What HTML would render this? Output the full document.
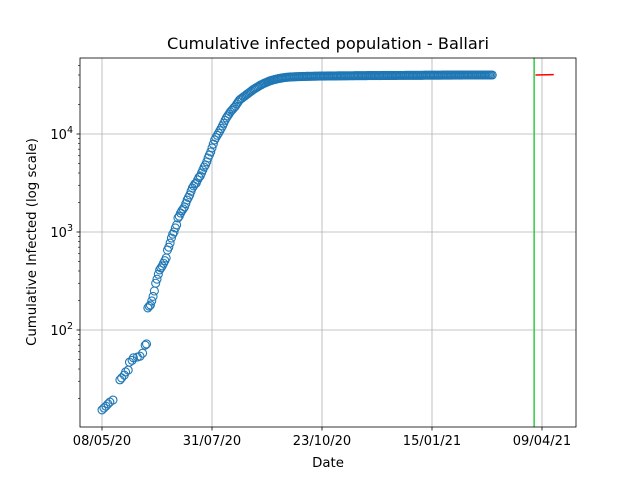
<!DOCTYPE html>
<html><head><meta charset="utf-8"><style>
body{margin:0;background:#fff}
svg{display:block;font-family:"DejaVu Sans","Liberation Sans",sans-serif}
</style></head><body>
<svg id="chart" width="640" height="480" viewBox="0 0 640 480" xmlns="http://www.w3.org/2000/svg">
<rect width="640" height="480" fill="#fff"/>
<g id="grid"></g>
<g id="marks"></g>
<g id="axes"></g>
<text x="328" y="49" text-anchor="middle" font-size="16.2" fill="#000">Cumulative infected population - Ballari</text>
<text x="328" y="467" text-anchor="middle" font-size="13.3" fill="#000">Date</text>
<text transform="translate(36,242) rotate(-90)" text-anchor="middle" font-size="13.3" fill="#000">Cumulative Infected (log scale)</text>
</svg>
<script>
const earlyDays = [0,1.5,3,4.6,6,8.4,13.7,15,17,18,20,21,23,24,27,29,31,33,34];
const earlyValues = [15.3,16,16.7,17.6,18.4,19.3,31,32.4,34.7,37.3,39,47,49,52,53,54,58,70,72];
const dailyStart = 35;
const dailyValues = [
168,175,180,198,220,250,300,330,370,410,430,450,480,510,543,655,700,772,868,950,
1000,1100,1180,1390,1450,1560,1650,1720,1800,1950,2120,2250,2390,2600,2810,2950,3100,3160,3400,3600,
3730,4000,4300,4600,4830,5200,5690,6100,6550,7200,7900,8690,9200,9700,10200,10800,11400,12100,12900,13800,
14600,15300,16000,16800,17400,18000,18700,19300,20300,21200,22200,22800,23300,23900,24400,25000,25600,26200,26800,27400,
28100,28700,29200,29800,30300,30900,31600,32000,32500,33000,33400,33900,34300,34800,35100,35400,35700,36000,36300,36600,
36800,37000,37200,37400,37600,37800,37900,38000,38100,38200,38250,38300,38350,38400,38450,38500,38550,38600,38650,38700,
38700,38750,38750,38800,38800,38850,38850,38900,38900,38950,38950,39000,39000,39000,39050,39050,39050,39100,39100,39100,
39100,39150,39150,39150,39150,39200,39200,39200,39200,39250,39250,39250,39250,39300,39300,39300,39300,39300,39350,39350,
39350,39350,39350,39400,39400,39400,39400,39400,39450,39450,39450,39450,39450,39500,39500,39500,39500,39500,39500,39550,
39550,39550,39550,39550,39550,39600,39600,39600,39600,39600,39600,39650,39650,39650,39650,39650,39650,39700,39700,39700,
39700,39700,39700,39700,39750,39750,39750,39750,39750,39750,39750,39800,39800,39800,39800,39800,39800,39800,39850,39850,
39850,39850,39850,39850,39850,39900,39900,39900,39900,39900,39900,39900,39900,39950,39950,39950,39950,39950,39950,39950,
39950,40000,40000,40000,40000,40000,40000,40000,40000,40000,40000,40000,40000,40000,40000,40000,40000,40000,40000,40000,
40000,40000,40000,40000
];
const xTickDays = [0,84,168,252,336];
const xTickLabels = ["08/05/20","31/07/20","23/10/20","15/01/21","09/04/21"];
const yTickExps = [2,3,4];
const markerDay = [330];
const fitDays = [331,345];
const fitValues = [40000,40300];

const L=80,R=576,T=58,B=427;
const xs = d => 102 + d*1.3095;
const ys = v => 134 - (Math.log10(v)-4)*98;
const NS="http://www.w3.org/2000/svg";
function mk(parent,tag,attrs){const e=document.createElementNS(NS,tag);for(const k in attrs)e.setAttribute(k,attrs[k]);document.getElementById(parent).appendChild(e);return e;}

xTickDays.forEach((d,i)=>{
  const g=mk('grid','line',{x1:xs(d),x2:xs(d),y1:T,y2:B,stroke:'#b0b0b0','stroke-width':0.8});
  
  
  const t=mk('axes','line',{x1:xs(d),x2:xs(d),y1:B,y2:B+3.5,stroke:'#000','stroke-width':0.8});
  
  
  const l=mk('axes','text',{x:xs(d),y:B+18,'text-anchor':'middle','font-size':13,fill:'#000'});
  l.textContent=xTickLabels[i];
  
  
});
yTickExps.forEach(e=>{
  const y=ys(Math.pow(10,e));
  const g=mk('grid','line',{x1:L,x2:R,y1:y,y2:y,stroke:'#b0b0b0','stroke-width':0.8});
  
  
  const t=mk('axes','line',{x1:L-3.5,x2:L,y1:y,y2:y,stroke:'#000','stroke-width':0.8});
  
  
  const l=mk('axes','text',{x:L-7,y:y+5,'text-anchor':'end','font-size':13,fill:'#000'});
  l.innerHTML='10<tspan dy="-6" font-size="9.5">'+e+'</tspan>';
  
  
});
for(let e=1;e<=4;e++){for(let m=2;m<=9;m++){const v=m*Math.pow(10,e);const y=ys(v);if(y<T||y>B)continue;
  const t=mk('axes','line',{x1:L-2,x2:L,y1:y,y2:y,stroke:'#000','stroke-width':0.6});
  
  }}
function pt(d,v){
  const c=mk('marks','circle',{cx:xs(d),cy:ys(v),r:4,fill:'none',stroke:'#1f77b4','stroke-width':1.1});
  
  
}
earlyDays.forEach((d,i)=>pt(d,earlyValues[i]));
dailyValues.forEach((v,i)=>pt(dailyStart+i,v));
const g=mk('marks','line',{x1:xs(markerDay[0]),x2:xs(markerDay[0]),y1:T,y2:B,stroke:'#2ecc40','stroke-width':1.5});


const r=mk('marks','line',{x1:xs(fitDays[0]),x2:xs(fitDays[1]),y1:ys(fitValues[0]),y2:ys(fitValues[1]),stroke:'#ff0000','stroke-width':1.5});


const f=mk('axes','rect',{x:L,y:T,width:R-L,height:B-T,fill:'none',stroke:'#000','stroke-width':0.8});


</script>
</body></html>
